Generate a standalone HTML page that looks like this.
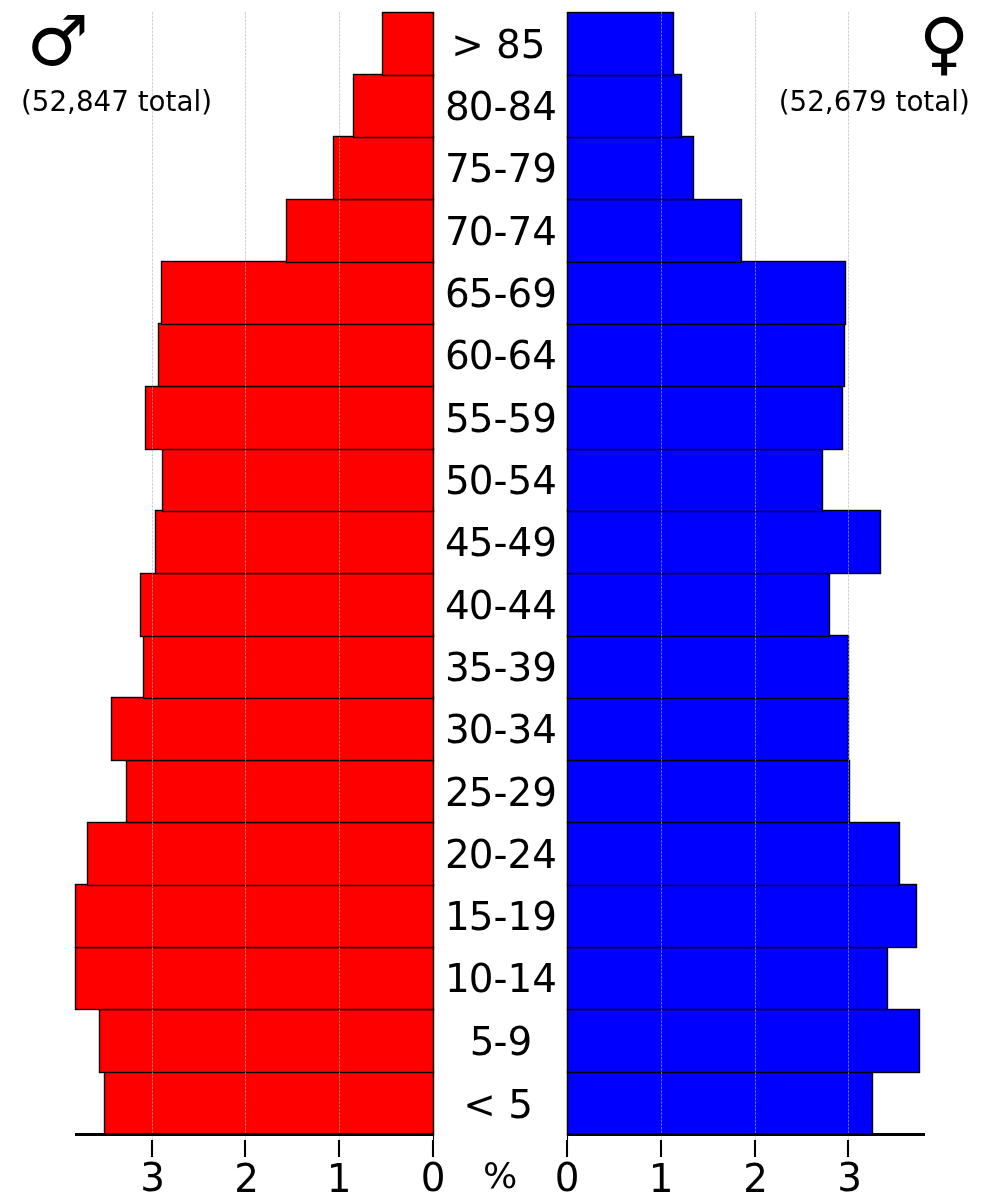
<!DOCTYPE html>
<html lang="en">
<head>
<meta charset="utf-8">
<title>Population pyramid</title>
<style>
html,body{margin:0;padding:0;background:#fff;}
body{width:1000px;height:1200px;overflow:hidden;}
svg{display:block;}
text{font-family:"DejaVu Sans","Liberation Sans",sans-serif;fill:#000;}
.bar{stroke:#000;stroke-width:1.39;stroke-linejoin:miter;}
.m{fill:#ff0000;}
.f{fill:#0000ff;}
.grid{stroke:#b0b0b0;stroke-width:0.6;stroke-dasharray:2.57 1.11;fill:none;}
.spine{stroke:#000;stroke-width:1.11;fill:none;}
.base{stroke:#000;stroke-width:2.78;fill:none;}
.tick{stroke:#000;stroke-width:2.08;fill:none;}
.age{font-size:38.89px;text-anchor:middle;}
.tl{font-size:38.89px;text-anchor:middle;}
.pct{font-size:36.1px;text-anchor:middle;}
.sym{font-size:69.44px;}
.tot{font-size:27.78px;}
</style>
</head>
<body>
<svg width="1000" height="1200" viewBox="0 0 1000 1200">
<rect x="0" y="0" width="1000" height="1200" fill="#ffffff"/>

<g id="male-bars">
<rect class="bar m" x="104.5" y="1071.5" width="329.0" height="63.0"/>
<rect class="bar m" x="99.5" y="1009.5" width="334.0" height="63.0"/>
<rect class="bar m" x="75.5" y="947.5" width="358.0" height="62.0"/>
<rect class="bar m" x="75.5" y="884.5" width="358.0" height="63.0"/>
<rect class="bar m" x="87.5" y="822.5" width="346.0" height="63.0"/>
<rect class="bar m" x="126.5" y="760.5" width="307.0" height="62.0"/>
<rect class="bar m" x="111.5" y="697.5" width="322.0" height="63.0"/>
<rect class="bar m" x="143.5" y="635.5" width="290.0" height="63.0"/>
<rect class="bar m" x="140.5" y="573.5" width="293.0" height="63.0"/>
<rect class="bar m" x="155.5" y="510.5" width="278.0" height="63.0"/>
<rect class="bar m" x="162.5" y="448.5" width="271.0" height="63.0"/>
<rect class="bar m" x="145.5" y="386.5" width="288.0" height="63.0"/>
<rect class="bar m" x="158.5" y="323.5" width="275.0" height="63.0"/>
<rect class="bar m" x="161.5" y="261.5" width="272.0" height="63.0"/>
<rect class="bar m" x="286.5" y="199.5" width="147.0" height="63.0"/>
<rect class="bar m" x="333.5" y="136.5" width="100.0" height="63.0"/>
<rect class="bar m" x="353.5" y="74.5" width="80.0" height="63.0"/>
<rect class="bar m" x="382.5" y="12.5" width="51.0" height="63.0"/>
</g>
<g id="female-bars">
<rect class="bar f" x="567.5" y="1071.5" width="305.0" height="63.0"/>
<rect class="bar f" x="567.5" y="1009.5" width="352.0" height="63.0"/>
<rect class="bar f" x="567.5" y="947.5" width="320.0" height="62.0"/>
<rect class="bar f" x="567.5" y="884.5" width="349.0" height="63.0"/>
<rect class="bar f" x="567.5" y="822.5" width="332.0" height="63.0"/>
<rect class="bar f" x="567.5" y="760.5" width="282.0" height="62.0"/>
<rect class="bar f" x="567.5" y="697.5" width="281.0" height="63.0"/>
<rect class="bar f" x="567.5" y="635.5" width="281.0" height="63.0"/>
<rect class="bar f" x="567.5" y="573.5" width="262.0" height="63.0"/>
<rect class="bar f" x="567.5" y="510.5" width="313.0" height="63.0"/>
<rect class="bar f" x="567.5" y="448.5" width="255.0" height="63.0"/>
<rect class="bar f" x="567.5" y="386.5" width="275.0" height="63.0"/>
<rect class="bar f" x="567.5" y="323.5" width="277.0" height="63.0"/>
<rect class="bar f" x="567.5" y="261.5" width="278.0" height="63.0"/>
<rect class="bar f" x="567.5" y="199.5" width="174.0" height="63.0"/>
<rect class="bar f" x="567.5" y="136.5" width="126.0" height="63.0"/>
<rect class="bar f" x="567.5" y="74.5" width="114.0" height="63.0"/>
<rect class="bar f" x="567.5" y="12.5" width="106.0" height="63.0"/>
</g>
<g id="grid">
<line class="grid" x1="339.50" y1="12.0" x2="339.50" y2="1140.0"/>
<line class="grid" x1="661.50" y1="12.0" x2="661.50" y2="1140.0"/>
<line class="grid" x1="245.50" y1="12.0" x2="245.50" y2="1140.0"/>
<line class="grid" x1="755.50" y1="12.0" x2="755.50" y2="1140.0"/>
<line class="grid" x1="152.50" y1="12.0" x2="152.50" y2="1140.0"/>
<line class="grid" x1="848.50" y1="12.0" x2="848.50" y2="1140.0"/>
</g>
<line class="spine" x1="433.5" y1="12.0" x2="433.5" y2="1140.0"/>
<line class="spine" x1="567.5" y1="12.0" x2="567.5" y2="1140.0"/>
<line class="base" x1="75" y1="1134.5" x2="434.05" y2="1134.5"/>
<line class="base" x1="566.95" y1="1134.5" x2="925" y2="1134.5"/>
<g id="ticks">
<line class="tick" x1="433" y1="1140.0" x2="433" y2="1157.0"/>
<text class="tl" x="433.05" y="1190.9">0</text>
<line class="tick" x1="567" y1="1140.0" x2="567" y2="1157.0"/>
<text class="tl" x="567.05" y="1190.9">0</text>
<line class="tick" x1="339" y1="1140.0" x2="339" y2="1157.0"/>
<text class="tl" x="339.0" y="1191.8">1</text>
<line class="tick" x1="661" y1="1140.0" x2="661" y2="1157.0"/>
<text class="tl" x="661.0" y="1191.8">1</text>
<line class="tick" x1="245" y1="1140.0" x2="245" y2="1157.0"/>
<text class="tl" x="246.6" y="1191.8">2</text>
<line class="tick" x1="755" y1="1140.0" x2="755" y2="1157.0"/>
<text class="tl" x="755.6" y="1191.8">2</text>
<line class="tick" x1="152" y1="1140.0" x2="152" y2="1157.0"/>
<text class="tl" x="152.6" y="1190.9">3</text>
<line class="tick" x1="848" y1="1140.0" x2="848" y2="1157.0"/>
<text class="tl" x="849.5" y="1190.9">3</text>
</g>
<text class="pct" x="500.1" y="1187.6">%</text>
<g id="ages">
<text class="age" x="498.4" y="58.3">&gt; 85</text>
<text class="age" x="501" dx="0 -1" y="120.3">80-84</text>
<text class="age" x="501" dx="0 -1" y="182.3">75-79</text>
<text class="age" x="501" dx="0 -1" y="245.3">70-74</text>
<text class="age" x="501" dx="0 -1" y="307.3">65-69</text>
<text class="age" x="501" dx="0 -1" y="369.3">60-64</text>
<text class="age" x="501" dx="0 -1" y="432.3">55-59</text>
<text class="age" x="501" dx="0 -1" y="494.3">50-54</text>
<text class="age" x="501" dx="0 -1" y="556.3">45-49</text>
<text class="age" x="501" dx="0 -1" y="619.3">40-44</text>
<text class="age" x="501" dx="0 -1" y="681.3">35-39</text>
<text class="age" x="501" dx="0 -1" y="743.3">30-34</text>
<text class="age" x="501" dx="0 -1" y="806.3">25-29</text>
<text class="age" x="501" dx="0 -1" y="868.3">20-24</text>
<text class="age" x="501" dx="0 -1" y="930.3">15-19</text>
<text class="age" x="501" dx="0 -1" y="992.3">10-14</text>
<text class="age" x="501" dx="0 -1" y="1055.3">5-9</text>
<text class="age" x="498.1" y="1118.3">&lt; 5</text>
</g>
<text class="sym" x="26.5" y="65">♂</text>
<text class="tot" x="20.9" y="111.2">(52,847 total)</text>
<text class="sym" style="font-size:68.6px" x="919.1" y="66.7">♀</text>
<text class="tot" x="778.7" y="111.2">(52,679 total)</text>
</svg>
</body>
</html>
